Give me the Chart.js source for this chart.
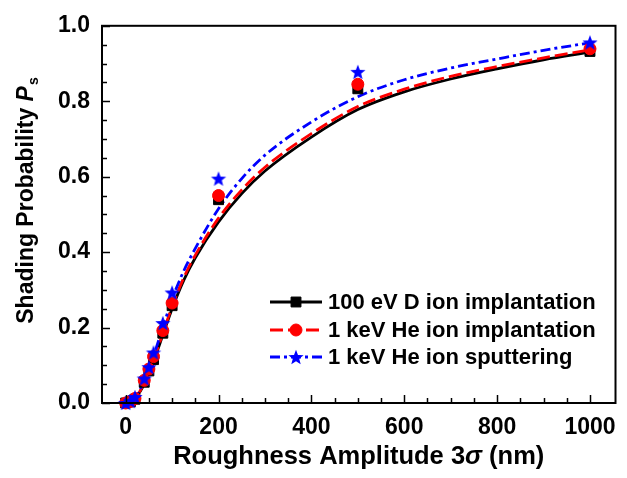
<!DOCTYPE html>
<html>
<head>
<meta charset="utf-8">
<script src="https://cdn.jsdelivr.net/npm/chart.js@4.4.1/dist/chart.umd.min.js"></script>
<style>
  body { margin: 0; background: #fff; }
  #wrap { width: 627px; height: 478px; }
</style>
</head>
<body>
<div id="wrap"><canvas id="chart" width="627" height="478"></canvas></div>
<script>
// simulated points
const pointX = [0, 10, 20, 40, 50, 60, 80, 100, 200, 500, 1000];
const dImplPts = [0, 0.003, 0.010, 0.055, 0.085, 0.115, 0.185, 0.258, 0.539, 0.833, 0.932];
const heImplPts = [0, 0.004, 0.012, 0.060, 0.090, 0.123, 0.192, 0.265, 0.550, 0.845, 0.939];
const heSputPts = [0, 0.005, 0.016, 0.065, 0.095, 0.134, 0.212, 0.293, 0.595, 0.878, 0.956];

// fitted curves
const fitX = [0, 20, 40, 60, 80, 100, 125, 150, 200, 250, 300, 400, 500, 600, 700, 800, 900, 1000];
const dImplFit = [0, 0.012, 0.050, 0.110, 0.180, 0.250, 0.325, 0.385, 0.480, 0.555, 0.615, 0.705, 0.778, 0.825, 0.859, 0.886, 0.910, 0.930];
const heImplFit = [0, 0.013, 0.053, 0.114, 0.185, 0.256, 0.332, 0.392, 0.490, 0.565, 0.625, 0.714, 0.786, 0.832, 0.866, 0.892, 0.915, 0.936];
const heSputFit = [0, 0.015, 0.060, 0.125, 0.200, 0.275, 0.350, 0.410, 0.515, 0.595, 0.657, 0.745, 0.812, 0.857, 0.888, 0.912, 0.935, 0.955];

const seriesNames = ['100 eV D ion implantation', '1 keV He ion implantation', '1 keV He ion sputtering'];
const xTickLabels = ['0', '200', '400', '600', '800', '1000'];
const yTickLabels = ['0.0', '0.2', '0.4', '0.6', '0.8', '1.0'];

const FONT = "'Liberation Sans', Arial, sans-serif";

function toXY(xs, ys) {
    return xs.map((x, i) => ({ x: x, y: ys[i] }));
}

// filled five point star used as a marker
function makeStar(r, color) {
    const c = document.createElement('canvas');
    c.width = c.height = Math.ceil(r * 2 + 2);
    const g = c.getContext('2d');
    const cx = c.width / 2, cy = c.height / 2 + 0.8;
    g.beginPath();
    for (let i = 0; i < 10; i++) {
        const rad = i % 2 === 0 ? r : r * 0.42;
        const a = -Math.PI / 2 + i * Math.PI / 5;
        g.lineTo(cx + rad * Math.cos(a), cy + rad * Math.sin(a));
    }
    g.closePath();
    g.fillStyle = color;
    g.fill();
    return c;
}
const starImg = makeStar(8, '#0000ff');

const fitLine = (data, color, dash, order) => ({
    data: data,
    showLine: true,
    borderColor: color,
    borderWidth: 2.8,
    borderDash: dash,
    pointRadius: 0,
    cubicInterpolationMode: 'monotone',
    fill: false,
    order: order
});

const datasets = [
    fitLine(toXY(fitX, dImplFit), '#000000', [], 5),
    fitLine(toXY(fitX, heImplFit), '#ff0000', [13, 5], 4),
    fitLine(toXY(fitX, heSputFit), '#0000ff', [10, 4, 3, 4], 3),
    { data: toXY(pointX, dImplPts), pointStyle: 'rect', pointRadius: 7, backgroundColor: '#000', borderColor: '#000', borderWidth: 1, clip: false, order: 2 },
    { data: toXY(pointX, heImplPts), pointStyle: 'circle', pointRadius: 6, backgroundColor: '#ff0000', borderColor: '#ff0000', borderWidth: 1, clip: false, order: 1 },
    { data: toXY(pointX, heSputPts), pointStyle: starImg, pointRadius: 8, backgroundColor: '#0000ff', borderColor: '#0000ff', clip: false, order: 0 }
];

// frame, inward ticks, axis titles and legend
const decor = {
    id: 'decor',
    afterDraw(chart) {
        const ctx = chart.ctx;
        const a = chart.chartArea;
        const xs = chart.scales.x, ys = chart.scales.y;
        ctx.save();
        ctx.strokeStyle = '#000';
        ctx.lineWidth = 2;
        ctx.strokeRect(a.left, a.top, a.right - a.left, a.bottom - a.top);

        ctx.lineWidth = 1.5;
        xs.ticks.forEach(t => {
            const px = Math.round(xs.getPixelForValue(t.value)) + 0.5;
            const len = t.value % 200 === 0 ? 8 : 5;
            ctx.beginPath();
            ctx.moveTo(px, a.bottom);
            ctx.lineTo(px, a.bottom - len);
            ctx.stroke();
        });
        ys.ticks.forEach(t => {
            const py = Math.round(ys.getPixelForValue(t.value)) + 0.5;
            const major = Math.abs(t.value * 5 - Math.round(t.value * 5)) < 1e-6;
            ctx.beginPath();
            ctx.moveTo(a.left, py);
            ctx.lineTo(a.left + (major ? 8 : 5), py);
            ctx.stroke();
        });

        // x title
        ctx.fillStyle = '#000';
        ctx.textBaseline = 'alphabetic';
        const xParts = [
            { t: 'Roughness Amplitude 3', f: 'bold 25.5px ' + FONT },
            { t: '\u03c3', f: 'italic bold 25.5px ' + FONT },
            { t: ' (nm)', f: 'bold 25.5px ' + FONT }
        ];
        let w = 0;
        xParts.forEach(p => { ctx.font = p.f; p.w = ctx.measureText(p.t).width; w += p.w; });
        let x = (a.left + a.right) / 2 - w / 2;
        xParts.forEach(p => { ctx.font = p.f; ctx.fillText(p.t, x, 464); x += p.w; });

        // y title
        const yParts = [
            { t: 'Shading Probability ', f: 'bold 23px ' + FONT, dy: 0 },
            { t: 'P', f: 'italic bold 23px ' + FONT, dy: 0 },
            { t: 's', f: 'bold 14px ' + FONT, dy: 5 }
        ];
        w = 0;
        yParts.forEach(p => { ctx.font = p.f; p.w = ctx.measureText(p.t).width; w += p.w; });
        ctx.translate(33, 201);
        ctx.rotate(-Math.PI / 2);
        x = -w / 2;
        yParts.forEach(p => { ctx.font = p.f; ctx.fillText(p.t, x, p.dy); x += p.w + (p.t === 'P' ? 1 : 0); });
        ctx.setTransform(1, 0, 0, 1, 0, 0);

        // legend
        const rows = [302, 330, 357];
        ctx.font = 'bold 22px ' + FONT;
        ctx.textBaseline = 'middle';
        seriesNames.forEach((name, i) => {
            const line = chart.data.datasets[i];
            const pts = chart.data.datasets[i + 3];
            const y = rows[i];
            ctx.strokeStyle = line.borderColor;
            ctx.lineWidth = line.borderWidth;
            ctx.setLineDash(line.borderDash);
            ctx.beginPath();
            ctx.moveTo(270, y);
            ctx.lineTo(322, y);
            ctx.stroke();
            ctx.setLineDash([]);
            ctx.fillStyle = pts.backgroundColor;
            ctx.strokeStyle = pts.borderColor;
            ctx.lineWidth = 1;
            Chart.helpers.drawPoint(ctx, {
                pointStyle: pts.pointStyle, radius: pts.pointRadius, rotation: 0, borderWidth: 1
            }, 296, y);
            ctx.fillStyle = '#000';
            ctx.fillText(name, 328, y + 1);
        });
        ctx.restore();
    }
};

new Chart(document.getElementById('chart').getContext('2d'), {
    type: 'scatter',
    data: { datasets: datasets },
    options: {
        responsive: false,
        animation: false,
        layout: { padding: { top: 21, right: 5, left: 0, bottom: 0 } },
        plugins: { legend: { display: false }, tooltip: { enabled: false } },
        scales: {
            x: {
                type: 'linear',
                min: -51,
                max: 1055,
                afterBuildTicks: scale => {
                    const t = [];
                    for (let v = 0; v <= 1000; v += 50) t.push({ value: v });
                    scale.ticks = t;
                },
                afterFit: scale => { scale.height = 75; },
                grid: { display: false, drawTicks: false },
                border: { display: false },
                ticks: {
                    autoSkip: false,
                    maxRotation: 0,
                    padding: 11,
                    color: '#000',
                    font: { family: FONT, size: 23, weight: 'bold' },
                    callback: v => xTickLabels.includes(String(v)) ? String(v) : ''
                }
            },
            y: {
                type: 'linear',
                min: 0,
                max: 1,
                afterBuildTicks: scale => {
                    const t = [];
                    for (let i = 0; i <= 20; i++) t.push({ value: i / 20 });
                    scale.ticks = t;
                },
                afterFit: scale => { scale.width = 102; },
                grid: { display: false, drawTicks: false },
                border: { display: false },
                ticks: {
                    autoSkip: false,
                    padding: 12,
                    color: '#000',
                    font: { family: FONT, size: 23, weight: 'bold' },
                    callback: v => {
                        const s = Number(v).toFixed(1);
                        const major = Math.abs(v * 5 - Math.round(v * 5)) < 1e-6;
                        return major && yTickLabels.includes(s) ? s : '';
                    }
                }
            }
        }
    },
    plugins: [decor]
});
</script>
</body>
</html>
